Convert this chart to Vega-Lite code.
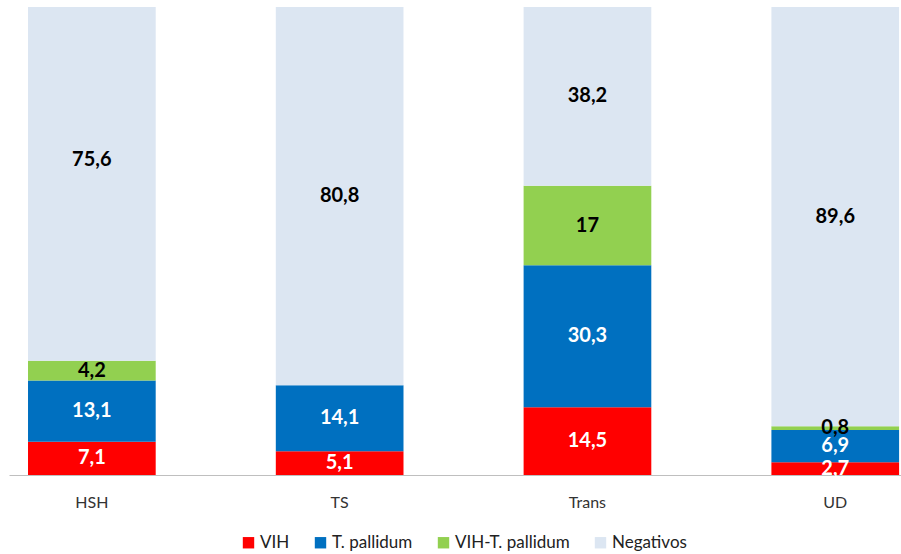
{
  "$schema": "https://vega.github.io/schema/vega-lite/v6.json",
  "autosize": "none",
  "width": 892,
  "height": 468,
  "padding": {"left": 9, "top": 7, "right": 0, "bottom": 79},
  "background": "white",
  "config": {
    "view": {"stroke": null},
    "font": "Lato",
    "locale": {"number": {"decimal": ",", "thousands": ".", "grouping": [3], "currency": ["", " €"]}}
  },
  "data": {
    "values": [
      {"grupo": "HSH", "serie": "VIH", "orden": 1, "valor": 7.1},
      {"grupo": "HSH", "serie": "T. pallidum", "orden": 2, "valor": 13.1},
      {"grupo": "HSH", "serie": "VIH-T. pallidum", "orden": 3, "valor": 4.2},
      {"grupo": "HSH", "serie": "Negativos", "orden": 4, "valor": 75.6},
      {"grupo": "TS", "serie": "VIH", "orden": 1, "valor": 5.1},
      {"grupo": "TS", "serie": "T. pallidum", "orden": 2, "valor": 14.1},
      {"grupo": "TS", "serie": "Negativos", "orden": 4, "valor": 80.8},
      {"grupo": "Trans", "serie": "VIH", "orden": 1, "valor": 14.5},
      {"grupo": "Trans", "serie": "T. pallidum", "orden": 2, "valor": 30.3},
      {"grupo": "Trans", "serie": "VIH-T. pallidum", "orden": 3, "valor": 17},
      {"grupo": "Trans", "serie": "Negativos", "orden": 4, "valor": 38.2},
      {"grupo": "UD", "serie": "VIH", "orden": 1, "valor": 2.7},
      {"grupo": "UD", "serie": "T. pallidum", "orden": 2, "valor": 6.9},
      {"grupo": "UD", "serie": "VIH-T. pallidum", "orden": 3, "valor": 0.8},
      {"grupo": "UD", "serie": "Negativos", "orden": 4, "valor": 89.6}
    ]
  },
  "encoding": {
    "x": {
      "field": "grupo",
      "type": "nominal",
      "sort": ["HSH", "TS", "Trans", "UD"],
      "scale": {"paddingInner": 0.4847, "paddingOuter": 0.0422, "align": 0.909},
      "axis": {
        "title": null,
        "labelAngle": 0,
        "ticks": false,
        "domainColor": "#BFBFBF",
        "domainWidth": 1,
        "labelFont": "Lato",
        "labelFontSize": 16,
        "labelColor": "#333333",
        "labelPadding": 19,
        "grid": false
      }
    },
    "y": {
      "field": "valor",
      "type": "quantitative",
      "stack": "zero",
      "scale": {"domain": [0, 100], "nice": false},
      "axis": null
    },
    "order": {"field": "orden", "type": "quantitative"}
  },
  "layer": [
    {
      "mark": {"type": "bar"},
      "encoding": {
        "color": {
          "field": "serie",
          "type": "nominal",
          "scale": {
            "domain": ["VIH", "T. pallidum", "VIH-T. pallidum", "Negativos"],
            "range": ["#FF0000", "#0070C0", "#92D050", "#DCE6F2"]
          },
          "legend": {
            "title": null,
            "orient": "none",
            "direction": "horizontal",
            "legendX": 231,
            "legendY": 527,
            "symbolType": "square",
            "symbolSize": 130,
            "symbolStrokeWidth": 0,
            "labelFont": "Lato",
            "labelFontSize": 17,
            "labelColor": "#222222",
            "labelOffset": 3,
            "columnPadding": 22
          }
        }
      }
    },
    {
      "mark": {"type": "text", "fontSize": 20, "fontWeight": "bold", "font": "Lato"},
      "encoding": {
        "y": {"field": "valor", "type": "quantitative", "stack": "zero", "bandPosition": 0.5},
        "detail": {"field": "serie", "type": "nominal"},
        "text": {"field": "valor", "type": "quantitative", "format": ".1~f"},
        "color": {
          "condition": [
            {"test": "datum.grupo === 'HSH' && datum.serie === 'Negativos'", "value": "transparent"},
            {"test": "datum.serie === 'VIH' || datum.serie === 'T. pallidum'", "value": "white"}
          ],
          "value": "black"
        }
      }
    },
    {
      "transform": [
        {"stack": "valor", "groupby": ["grupo"], "sort": [{"field": "orden"}], "as": ["inicio", "fin"]},
        {"filter": "datum.grupo === 'HSH' && datum.serie === 'Negativos'"}
      ],
      "mark": {"type": "text", "fontSize": 20, "fontWeight": "bold", "font": "Lato", "baseline": "middle", "dy": 153, "color": "black"},
      "encoding": {
        "y": {"field": "fin", "type": "quantitative"},
        "order": null,
        "text": {"field": "valor", "type": "quantitative", "format": ".1~f"}
      }
    }
  ]
}
